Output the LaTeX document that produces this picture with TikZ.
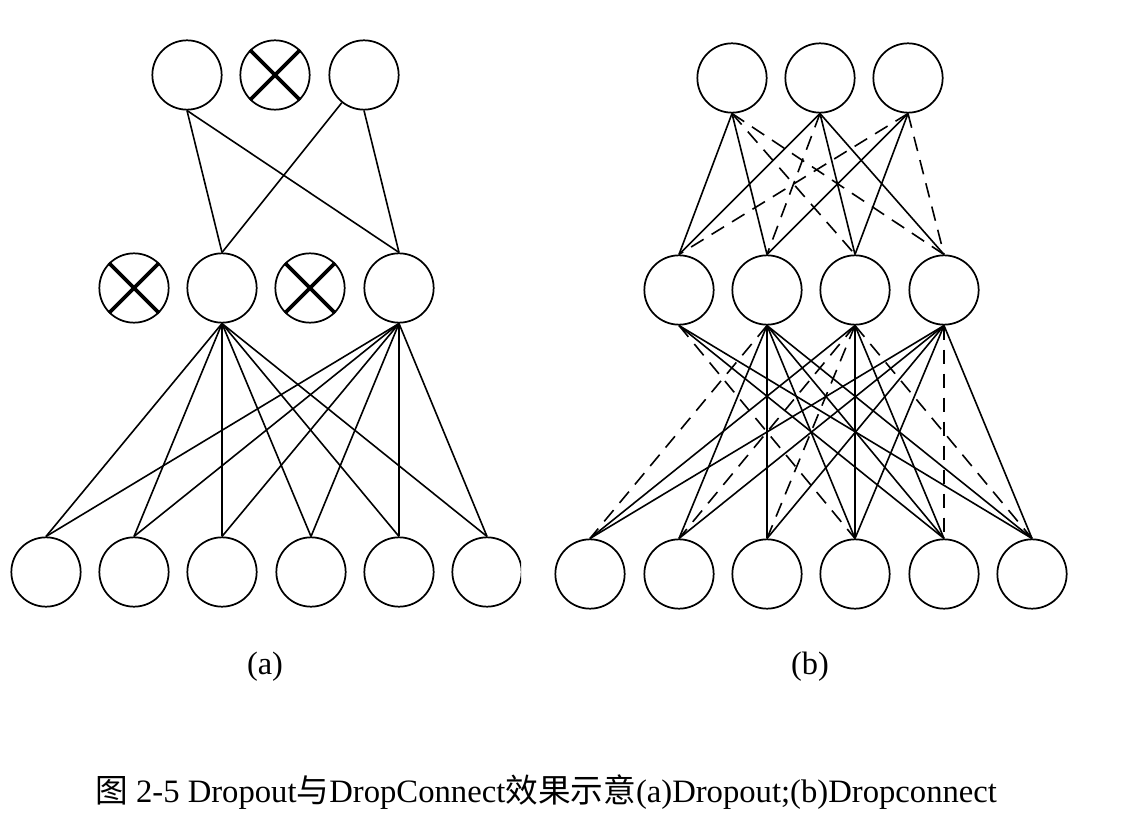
\documentclass[tikz,border=0pt]{standalone}
\usepackage{fontspec}
\setmainfont{Liberation Serif}
\newfontfamily\cjk{Noto Sans CJK SC}
\usetikzlibrary{positioning}
\tikzset{
    unitNode/.style={
        circle,
        draw=black,
        fill=white,
        line width=1.3pt,
        inner sep=0pt,
        minimum size=52pt
    },
    crossMark/.style={line width=2.8pt},
    linkEdge/.style={line width=1.2pt},
    dropLink/.style={line width=1.2pt, dash pattern=on 11pt off 7pt},
    panelLabel/.style={font=\fontsize{24.3}{28}\selectfont, inner sep=0pt}
}

\begin{document}
\begin{tikzpicture}[x=0.75pt, y=-0.75pt]
            \useasboundingbox (0,0) rectangle (1130,837);

            % Panel (a): Dropout
            \begin{scope}
            \clip (0,0) rectangle (521,837);
            % Nodes
            \foreach \x [count=\i] in {187,275,364}
                \node[unitNode] (aT\i) at (\x,75) {};
            \foreach \x [count=\i] in {134,222,310,399}
                \node[unitNode] (aM\i) at (\x,288) {};
            \foreach \x [count=\i] in {46,134,222,311,399,487}
                \node[unitNode] (aB\i) at (\x,572) {};

            % Dropped units
            \foreach \n in {aT2,aM1,aM3} {
                \draw[crossMark] (\n.north west) -- (\n.south east);
                \draw[crossMark] (\n.north east) -- (\n.south west);
            }

            % Connections
            \draw[linkEdge] (aT1.south) -- (aM2.north);
            \draw[linkEdge] (aT1.south) -- (aM4.north);
            \draw[linkEdge] (aT3) -- (aM2.north);
            \draw[linkEdge] (aT3.south) -- (aM4.north);
            \foreach \m in {2,4}
                \foreach \b in {1,...,6}
                    \draw[linkEdge] (aM\m.south) -- (aB\b.north);
            \end{scope}

            % Panel (b): DropConnect
            % Nodes
            \foreach \x [count=\i] in {732,820,908}
                \node[unitNode] (bT\i) at (\x,78) {};
            \foreach \x [count=\i] in {679,767,855,944}
                \node[unitNode] (bM\i) at (\x,290) {};
            \foreach \x [count=\i] in {590,679,767,855,944,1032}
                \node[unitNode] (bB\i) at (\x,574) {};

            % Connections (dashed = dropped weight)
            \foreach \t/\m/\s in {1/1/linkEdge, 1/2/linkEdge, 1/3/dropLink, 1/4/dropLink,
                                  2/1/linkEdge, 2/2/dropLink, 2/3/linkEdge, 2/4/linkEdge,
                                  3/1/dropLink, 3/2/linkEdge, 3/3/linkEdge, 3/4/dropLink}
                \draw[\s] (bT\t.south) -- (bM\m.north);
            \foreach \m/\b/\s in {1/4/dropLink, 1/5/linkEdge, 1/6/linkEdge,
                                  2/1/dropLink, 2/2/linkEdge, 2/3/linkEdge, 2/4/linkEdge, 2/5/linkEdge, 2/6/linkEdge,
                                  3/1/linkEdge, 3/2/dropLink, 3/3/dropLink, 3/4/linkEdge, 3/5/linkEdge, 3/6/dropLink,
                                  4/1/linkEdge, 4/2/linkEdge, 4/3/linkEdge, 4/4/linkEdge, 4/5/dropLink, 4/6/linkEdge}
                \draw[\s] (bM\m.south) -- (bB\b.north);

            % Labels
            \node[panelLabel, anchor=base] (labelA) at (265,674) {(a)};
            \node[panelLabel, anchor=base] (labelB) at (810,674) {(b)};
            \node[panelLabel, anchor=base west, font=\fontsize{24.5}{28}\selectfont] (caption) at (95,802)
                {{\cjk 图} 2-5 Dropout{\cjk 与}DropConnect{\cjk 效果示意}(a)Dropout;(b)Dropconnect};
        \end{tikzpicture}
\end{document}
